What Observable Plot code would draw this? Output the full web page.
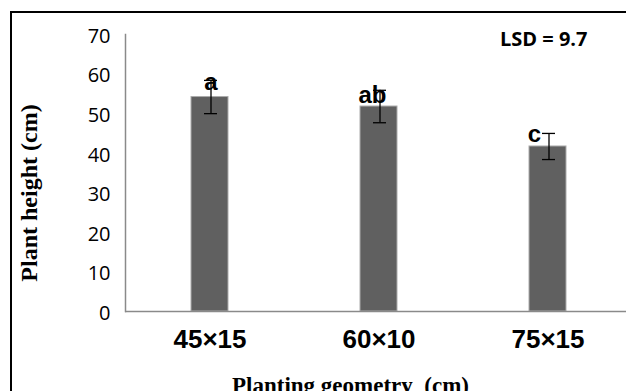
<!DOCTYPE html>
<html>
<head>
<meta charset="utf-8">
<script src="https://cdn.jsdelivr.net/npm/d3@7"></script>
<script src="https://cdn.jsdelivr.net/npm/@observablehq/plot@0.6"></script>
<style>
  html, body { margin: 0; padding: 0; background: #fff; overflow: hidden; }
  #wrap { position: relative; width: 626px; height: 391px; overflow: hidden; }
  #border { position: absolute; left: 10px; top: 11px; width: 700px; height: 500px; border: 2.5px solid #000; box-sizing: border-box; pointer-events: none; }
  #chart { position: absolute; left: 0; top: 0; }
</style>
</head>
<body>
<div id="wrap">
  <div id="chart"></div>
  <div id="border"></div>
</div>
<script>
// Data
const categories = ["45×15", "60×10", "75×15"];
const heights = [54.2, 51.8, 41.7];
const errors = [4.2, 4.1, 3.3];
const letters = ["a", "ab", "c"];
const yTicks = [0, 10, 20, 30, 40, 50, 60, 70];
const lsdLabel = "LSD = 9.7";
const yTitle = "Plant height (cm)";
const xTitle = "Planting geometry  (cm)";

const rows = categories.map((c, i) => ({cat: c, h: heights[i], e: errors[i], lo: heights[i] - errors[i], hi: heights[i] + errors[i], letter: letters[i]}));

// per-letter nudges (styling, as in the original figure)
const letterDx = [1, -6.5, -13.5];
const letterDy = [-14.5, -11.7, -11.7];

const plot = Plot.plot({
  width: 626,
  height: 391,
  marginLeft: 125,
  marginRight: 0,
  marginTop: 34,
  marginBottom: 80,
  style: {background: "transparent", overflow: "visible"},
  x: {domain: categories, range: [125, 632], paddingInner: 0.78, paddingOuter: 0.39, axis: null, label: null},
  y: {domain: [0, 70], axis: null, label: null},
  marks: [
    Plot.barY(rows, {x: "cat", y: "h", fill: "#606060", stroke: "#ababab", strokeWidth: 1}),
    Plot.ruleY([0], {stroke: "#8a8a8a", strokeWidth: 1.5}),
    Plot.frame({anchor: "left", stroke: "#8a8a8a", strokeWidth: 1.5}),
    Plot.axisY({ticks: yTicks, tickSize: 0, tickPadding: 15, fontSize: 20, fontFamily: "Open Sans", fill: "#000", dy: 2, label: null, tickFormat: d => String(d)}),
    Plot.axisX({tickSize: 0, tickPadding: 18, fontSize: 26, fontWeight: "bold", fontFamily: "Liberation Sans", fill: "#000", label: null}),
    Plot.ruleX(rows, {x: "cat", y1: "lo", y2: "hi", stroke: "#000", strokeWidth: 1.3, dx: 1}),
    Plot.tickY(rows, {x: "cat", y: "lo", stroke: "#000", strokeWidth: 1.3, insetLeft: 12, insetRight: 12, dx: 1}),
    Plot.tickY(rows, {x: "cat", y: "hi", stroke: "#000", strokeWidth: 1.3, insetLeft: 12, insetRight: 12, dx: 1}),
    ...rows.map((r, i) => Plot.text([r], {x: "cat", y: "h", text: "letter", fontSize: 24, fontWeight: "bold", fontFamily: "Liberation Sans", fill: "#000", dx: letterDx[i], dy: letterDy[i]})),
    Plot.text([lsdLabel], {frameAnchor: "top-right", text: d => d, textAnchor: "end", lineAnchor: "top", dx: -39, dy: -3, fontSize: 20, fontWeight: "bold", fontFamily: "Open Sans", fill: "#000"}),
    Plot.text([yTitle], {frameAnchor: "left", text: d => d, textAnchor: "middle", lineAnchor: "middle", rotate: -90, dx: -96.5, dy: 20, fontSize: 24, fontWeight: "bold", fontFamily: "Liberation Serif", fill: "#000"}),
    Plot.text([xTitle], {frameAnchor: "bottom", text: d => d, textAnchor: "middle", lineAnchor: "middle", dx: -25.5, dy: 74, fontSize: 23, fontWeight: "bold", fontFamily: "Liberation Serif", fill: "#000"})
  ]
});
document.getElementById("chart").appendChild(plot);
</script>
</body>
</html>
